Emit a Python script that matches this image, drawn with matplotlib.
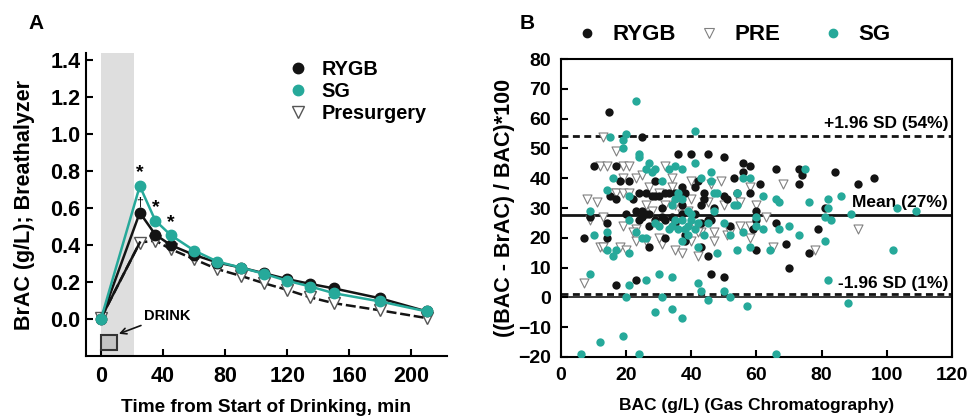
import matplotlib
matplotlib.use("Agg")
import matplotlib.pyplot as plt
from matplotlib.patches import Rectangle
from matplotlib.lines import Line2D

plt.rcParams['font.family'] = ['Liberation Sans', 'DejaVu Sans']
plt.rcParams['font.weight'] = 'bold'

TEAL = '#26a99a'
BLACK = '#141414'

# ---- panel A data: BrAC over time
time_min = [0, 25, 35, 45, 60, 75, 90, 105, 120, 135, 150, 180, 210]
rygb_brac = [0.0, 0.576, 0.457, 0.40, 0.347, 0.306, 0.279, 0.248, 0.216, 0.19, 0.166, 0.112, 0.041]
sg_brac = [0.0, 0.72, 0.533, 0.454, 0.371, 0.311, 0.279, 0.245, 0.207, 0.176, 0.14, 0.095, 0.041]
pre_brac = [0.005, 0.414, 0.425, 0.378, 0.324, 0.27, 0.234, 0.194, 0.158, 0.117, 0.086, 0.047, 0.005]

# ---- panel B data: Bland-Altman style scatter (BAC, % difference)
rygb_bac = [14.8, 10, 7, 9, 14, 14, 17, 17, 15, 18, 21, 20, 22, 23, 24, 24, 25, 25, 26, 27,
            27, 27, 28, 29, 29, 30, 31, 32, 32, 33, 32, 31, 36, 37, 38, 37, 38, 40, 41, 42,
            43, 44, 43, 45, 45, 46, 45, 46, 47, 50, 50, 50, 51, 52, 53, 54, 56, 56, 58, 58,
            59, 60, 60, 61, 60, 66, 66, 69, 70, 73, 73, 74, 76, 79, 81, 84, 91, 96, 17, 23,
            25, 26, 29, 34, 35, 37, 41, 43, 44, 35, 38]
rygb_diff = [62.2, 44, 20, 27, 25, 20, 44, 33, 34, 39, 39, 28, 33, 29, 35, 26, 29, 54, 35, 28,
             24, 17, 34, 39, 34, 34, 30, 20, 35, 35, 26, 27, 48, 37, 35, 31, 19, 48, 37, 39,
             31, 35, 17, 48, 14, 8, 26, 26, 30, 47, 34, 7, 33, 24, 40, 35, 45, 42, 44, 35,
             23, 29, 16, 38, 26, 43, 25, 18, 10, 43, 38, 41, 15, 23, 30, 42, 38, 40, 4, 6,
             27, 28, 26, 27, 25, 28, 28, 25, 33, 35, 21]

pre_bac = [13, 8, 11, 7, 12, 14, 17, 19, 21, 18, 12, 13, 16, 17, 19, 21, 19, 23, 25, 19,
           20, 23, 26, 27, 28, 30, 31, 32, 34, 35, 37, 37, 39, 40, 40, 42, 43, 44, 45, 46,
           47, 49, 50, 51, 55, 55, 58, 58, 60, 63, 65, 68, 78, 91, 13, 9, 23, 30, 34, 40,
           41, 47, 52, 58, 22, 26, 32, 42, 35]
pre_diff = [54, 33, 32, 5, 44, 44, 49, 44, 44, 17, 17, 17, 35, 35, 35, 35, 40, 40, 41, 24,
            16, 19, 19, 37, 29, 35, 18, 44, 37, 16, 15, 28, 29, 33, 19, 14, 22, 32, 32, 38,
            19, 39, 31, 21, 32, 24, 24, 20, 31, 27, 17, 38, 16, 23, 27, 26, 23, 20, 40, 39,
            24, 22, 22, 37, 22, 31, 31, 22, 31]

sg_bac = [23, 15, 19, 20, 19, 41, 24, 24, 27, 26, 28, 29, 31, 33, 35, 37, 41, 43, 46, 46,
          47, 48, 54, 56, 58, 62, 66, 67, 76, 75, 82, 86, 82, 81, 83, 89, 103, 109, 102, 81,
          82, 88, 14, 16, 21, 9, 10, 14, 14, 16, 17, 21, 21, 23, 25, 26, 29, 30, 33, 34,
          35, 36, 37, 37, 38, 39, 40, 41, 42, 42, 44, 45, 48, 50, 52, 54, 56, 58, 60, 62,
          64, 67, 70, 73, 9, 21, 20, 26, 30, 31, 34, 29, 34, 37, 42, 43, 45, 50, 52, 57,
          19, 12, 6, 24, 66, 35, 34, 36, 37, 39, 40, 47, 54, 53, 60, 39]
sg_diff = [66, 54, 53, 55, 50, 56, 48, 47, 45, 43, 42, 43, 39, 43, 44, 43, 45, 40, 42, 39,
           35, 35, 35, 40, 40, 34, 33, 32, 32, 43, 33, 34, 30, 27, 26, 28, 30, 29, 16, 19,
           6, -2, 36, 40, 34, 29, 21, 22, 16, 14, 16, 26, 15, 22, 20, 20, 25, 24, 23, 24,
           26, 23, 26, 19, 23, 24, 26, 23, 25, 17, 21, 25, 15, 25, 21, 16, 22, 17, 24, 23,
           16, 23, 24, 21, 8, 4, 0, 6, 8, 0, 7, -5, -4, -7, 5, 2, -1, 2, 0, -3,
           -13, -15, -19, -19, -19, 33, 31, 35, 33, 29, 28, 29, 31, 31, 27, 21]

upper_sd = 54.2
mean_diff = 27.5
lower_sd = 1.2

W, H = 968, 419
fig = plt.figure(figsize=(W / 100, H / 100), dpi=100)

# ================= panel A
ax = fig.add_axes([0.0888, 0.1504, 0.373, 0.723])
ax.axvspan(0, 21, color='#dedede', zorder=0, lw=0)
ax.plot(time_min, pre_brac, color=BLACK, lw=1.8, dashes=(4, 1.5), marker='v', ms=8,
        mfc='white', mec='#555555', mew=1, label='Presurgery', zorder=2)
ax.plot(time_min[:2], pre_brac[:2], color=BLACK, lw=1.8, zorder=2)
ax.plot(time_min, rygb_brac, color=BLACK, lw=1.8, marker='o', ms=7.5, mfc=BLACK, mec=BLACK,
        label='RYGB', zorder=3)
ax.plot(time_min, sg_brac, color=TEAL, lw=1.8, marker='o', ms=7.5, mfc=TEAL, mec=TEAL,
        label='SG', zorder=4)

for t, v in [(25, 0.745), (35, 0.555), (45, 0.475)]:
    ax.text(t, v, '*', ha='center', va='bottom', fontsize=14, fontweight='bold')
ax.text(25, 0.60, '\u2020', ha='center', va='bottom', fontsize=9, fontweight='normal')

ax.add_patch(Rectangle((0, -0.17), 10, 0.085, facecolor='#c4c4c4', edgecolor='#333333',
                       lw=1.5, zorder=5, clip_on=False))
ax.annotate('DRINK', xy=(11.5, -0.08), xytext=(27.5, 0.018), fontsize=10.5, fontweight='bold',
            va='center', ha='left',
            arrowprops=dict(arrowstyle='->', color=BLACK, lw=1.2, shrinkA=0, shrinkB=0))

ax.set_xlim(-9.7, 223)
ax.set_ylim(-0.2, 1.44)
ax.set_xticks([0, 40, 80, 120, 160, 200])
ax.set_yticks([0.0, 0.2, 0.4, 0.6, 0.8, 1.0, 1.2, 1.4])
ax.set_yticklabels(['0.0', '0.2', '0.4', '0.6', '0.8', '1.0', '1.2', '1.4'])
ax.spines['top'].set_visible(False)
ax.spines['right'].set_visible(False)
for s in ['left', 'bottom']:
    ax.spines[s].set_linewidth(1.5)
ax.tick_params(direction='in', length=5, width=1.5, labelsize=15.5)
ax.tick_params(axis='y', pad=4)
ax.tick_params(axis='x', pad=7)
ax.set_ylabel('BrAC (g/L); Breathalyzer', fontsize=15.5, fontweight='bold', labelpad=11)
ax.set_xlabel('Time from Start of Drinking, min', fontsize=13.7, fontweight='bold', labelpad=9)

h = [Line2D([], [], ls='none', marker='o', ms=7.5, color=BLACK),
     Line2D([], [], ls='none', marker='o', ms=7.5, color=TEAL),
     Line2D([], [], ls='none', marker='v', ms=8, mfc='white', mec='#555555')]
ax.legend(h, ['RYGB', 'SG', 'Presurgery'], loc='upper left', bbox_to_anchor=(0.279, 0.90),
          bbox_transform=fig.transFigure, frameon=False, fontsize=14.3, handletextpad=0.7,
          labelspacing=0.15, handlelength=1)

fig.text(0.037, 0.945, 'A', fontsize=15, fontweight='bold', ha='center', va='center')

# ================= panel B
bx = fig.add_axes([0.5795, 0.148, 0.404, 0.711])
ms = 36
bx.scatter(pre_bac, pre_diff, marker='v', s=ms + 6, facecolors='white', edgecolors='#808080',
           linewidths=0.8, zorder=2)
bx.scatter(rygb_bac, rygb_diff, marker='o', s=ms, color=BLACK, lw=0, zorder=3)
bx.scatter(sg_bac, sg_diff, marker='o', s=ms, color=TEAL, lw=0, zorder=4)

bx.axhline(upper_sd, color=BLACK, lw=2, dashes=(2.5, 1.6), zorder=1)
bx.axhline(mean_diff, color=BLACK, lw=2, zorder=1)
bx.axhline(lower_sd, color=BLACK, lw=2, dashes=(2.5, 1.6), zorder=1)
bx.axhline(0, color=BLACK, lw=1.2, zorder=1)

bx.text(118.8, 58.3, '+1.96 SD (54%)', ha='right', va='center', fontsize=12.5, fontweight='bold')
bx.text(118.8, 31.8, 'Mean (27%)', ha='right', va='center', fontsize=12.5, fontweight='bold')
bx.text(118.8, 4.8, '-1.96 SD (1%)', ha='right', va='center', fontsize=12.5, fontweight='bold')

bx.set_xlim(0, 120)
bx.set_ylim(-20, 80)
bx.set_xticks(range(0, 121, 20))
bx.set_yticks(range(-20, 81, 10))
for s in bx.spines.values():
    s.set_linewidth(1.5)
bx.tick_params(direction='in', length=5, width=1.5, labelsize=14)
bx.tick_params(axis='y', pad=7)
bx.tick_params(axis='x', pad=7)
bx.set_ylabel('((BAC - BrAC) / BAC)*100', fontsize=15.5, fontweight='bold', labelpad=2)
bx.set_xlabel('BAC (g/L) (Gas Chromatography)', fontsize=12.5, fontweight='bold', labelpad=10)

# legend across the top of panel B
leg_marks = [dict(marker='o', ms=6, color=BLACK),
             dict(marker='v', ms=7, mfc='white', mec='#808080', mew=0.8),
             dict(marker='o', ms=6, color=TEAL)]
leg_names = ['RYGB', 'PRE', 'SG']
leg_x = [587, 709, 833]
for style, name, px in zip(leg_marks, leg_names, leg_x):
    fig.add_artist(Line2D([px / W], [1 - 33 / H], ls='none', transform=fig.transFigure, **style))
    fig.text((px + 25) / W, 1 - 34 / H, name, fontsize=16, fontweight='bold',
             ha='left', va='center')

fig.text(0.545, 0.945, 'B', fontsize=15, fontweight='bold', ha='center', va='center')

fig.savefig('out.png', dpi=100)
